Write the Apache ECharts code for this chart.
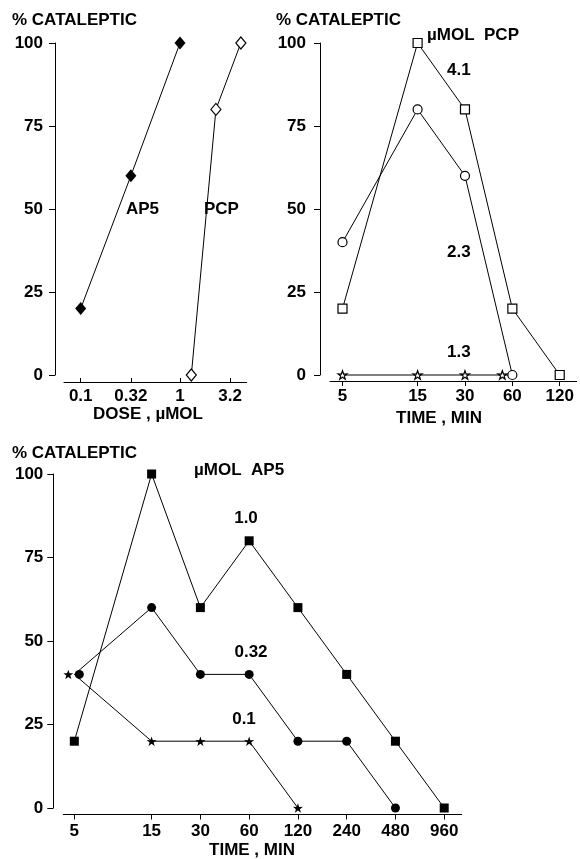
<!DOCTYPE html>
<html><head><meta charset="utf-8">
<script src="https://cdn.jsdelivr.net/npm/echarts@6/dist/echarts.min.js"></script>
<style>html,body{margin:0;padding:0;background:#fff}#c{width:580px;height:859px}</style>
</head><body><div id="c"></div>
<script>
// ---- data ----
const doseAP5 = [0.1, 0.32, 1];
const catAP5 = [20, 60, 100];
const dosePCP = [1.3, 2.3, 4.1];
const catPCP = [0, 80, 100];
const doseTicks = [0.1, 0.32, 1, 3.2];
const doseTickLabels = ['0.1', '0.32', '1', '3.2'];

const timePCP = [5, 15, 30, 60, 120];
const pcp41 = [20, 100, 80, 20, 0];
const pcp23 = [40, 80, 60, 0];
const pcp13 = [0, 0, 0, 0];
const timePCPLabels = ['5', '15', '30', '60', '120'];

const timeAP5 = [5, 15, 30, 60, 120, 240, 480, 960];
const ap5_10 = [20, 100, 60, 80, 60, 40, 20, 0];
const ap5_032 = [40, 60, 40, 40, 20, 20, 0];
const ap5_01 = [40, 20, 20, 20, 0];
const timeAP5Labels = ['5', '15', '30', '60', '120', '240', '480', '960'];

const pctTicks = [0, 25, 50, 75, 100];

// ---- helpers ----
const FONT = '"Liberation Sans", Arial, Helvetica, sans-serif';
const FS = 17;
const BLACK = '#000';
const STAR = 'path://M50 0 L61.8 35.1 L97.6 34.5 L69 56.7 L79.4 90.5 L50 70 L20.6 90.5 L31 56.7 L2.4 34.5 L38.2 35.1 Z';

function zip(xs, ys, offsets) {
  return ys.map((y, i) => {
    const d = { value: [xs[i], y] };
    if (offsets && offsets[i]) d.symbolOffset = offsets[i];
    return d;
  });
}

function yAx(gridIndex, offset, margin) {
  return {
    type: 'value', gridIndex, min: pctTicks[0], max: pctTicks[pctTicks.length - 1], interval: 25, offset,
    axisLine: { show: true, lineStyle: { color: BLACK, width: 1 } },
    axisTick: { show: true, inside: false, length: 6, lineStyle: { color: BLACK, width: 1 } },
    axisLabel: { color: BLACK, fontFamily: FONT, fontWeight: 'bold', fontSize: FS, margin },
    splitLine: { show: false }
  };
}

function xAx(gridIndex, min, max, ticks, labels, offset, inside, tickLen, margin) {
  return {
    type: 'log', logBase: 10, gridIndex, min, max, offset,
    axisLine: { show: true, onZero: false, lineStyle: { color: BLACK, width: 1 } },
    axisTick: { show: true, inside, length: tickLen, customValues: ticks, lineStyle: { color: BLACK, width: 1 } },
    axisLabel: {
      customValues: ticks, color: BLACK, fontFamily: FONT, fontWeight: 'bold', fontSize: FS, margin,
      formatter: v => {
        const i = ticks.findIndex(t => Math.abs(Math.log(t) - Math.log(v)) < 1e-6);
        return i >= 0 ? labels[i] : '';
      }
    },
    splitLine: { show: false }, minorTick: { show: false }, minorSplitLine: { show: false }
  };
}

function ser(xi, data, symbol, size, filled) {
  return {
    type: 'line', xAxisIndex: xi, yAxisIndex: xi, data, symbol, symbolSize: size,
    symbolKeepAspect: true, showSymbol: true, showAllSymbol: true, clip: false,
    lineStyle: { color: BLACK, width: 1 },
    itemStyle: filled ? { color: BLACK, borderColor: BLACK, borderWidth: 0 }
                      : { color: '#fff', borderColor: BLACK, borderWidth: 1.2 },
    emphasis: { disabled: true }, silent: true, z: 3
  };
}

function txt(s, x, y, align) {
  return {
    type: 'text', x, y, silent: true,
    style: { text: s, fill: BLACK, font: 'bold ' + FS + 'px ' + FONT,
             textAlign: align || 'left', align: align || 'left',
             textVerticalAlign: 'middle', verticalAlign: 'middle' }
  };
}

const chart = echarts.init(document.getElementById('c'), null, { renderer: 'canvas' });
chart.setOption({
  animation: false,
  backgroundColor: '#fff',
  grid: [
    { left: 64, top: 43, width: 182.7, height: 332 },
    { left: 330, top: 43, width: 246.7, height: 332 },
    { left: 63.3, top: 474, width: 398.4, height: 334 }
  ],
  xAxis: [
    xAx(0, 0.0679, 4.695, doseTicks, doseTickLabels, 7, true, 4, 6),
    xAx(1, 4.164, 153.8, timePCP, timePCPLabels, 6, false, 5, 7),
    xAx(2, 4.275, 1230.8, timeAP5, timeAP5Labels, 6.5, false, 5, 8)
  ],
  yAxis: [yAx(0, 9, 12), yAx(1, 10, 14), yAx(2, 10, 10)],
  series: [
    ser(0, zip(doseAP5, catAP5), 'diamond', [11, 13], true),
    ser(0, zip(dosePCP, catPCP), 'diamond', [10, 12], false),
    ser(1, zip(timePCP, pcp41), 'rect', 9, false),
    ser(1, zip(timePCP, pcp23), 'circle', 9, false),
    ser(1, zip(timePCP, pcp13, [null, null, null, [-10, 0]]), STAR, 9, false),
    ser(2, zip(timeAP5, ap5_10), 'rect', 9, true),
    ser(2, zip(timeAP5, ap5_032, [[5, 0]]), 'circle', 9, true),
    ser(2, zip(timeAP5, ap5_01, [[-6, 0]]), STAR, 10, true)
  ],
  graphic: [
    txt('% CATALEPTIC', 12, 20),
    txt('% CATALEPTIC', 276, 20),
    txt('% CATALEPTIC', 12, 453),
    txt('DOSE , µMOL', 148, 414, 'center'),
    txt('TIME , MIN', 439, 418, 'center'),
    txt('TIME , MIN', 252, 850, 'center'),
    txt('AP5', 126, 209),
    txt('PCP', 204, 209),
    txt('µMOL  PCP', 427, 35),
    txt('4.1', 447, 70),
    txt('2.3', 447, 252),
    txt('1.3', 447, 352),
    txt('µMOL  AP5', 194, 470),
    txt('1.0', 246, 518, 'center'),
    txt('0.32', 251, 652, 'center'),
    txt('0.1', 244, 719, 'center')
  ]
});
</script>
</body></html>
